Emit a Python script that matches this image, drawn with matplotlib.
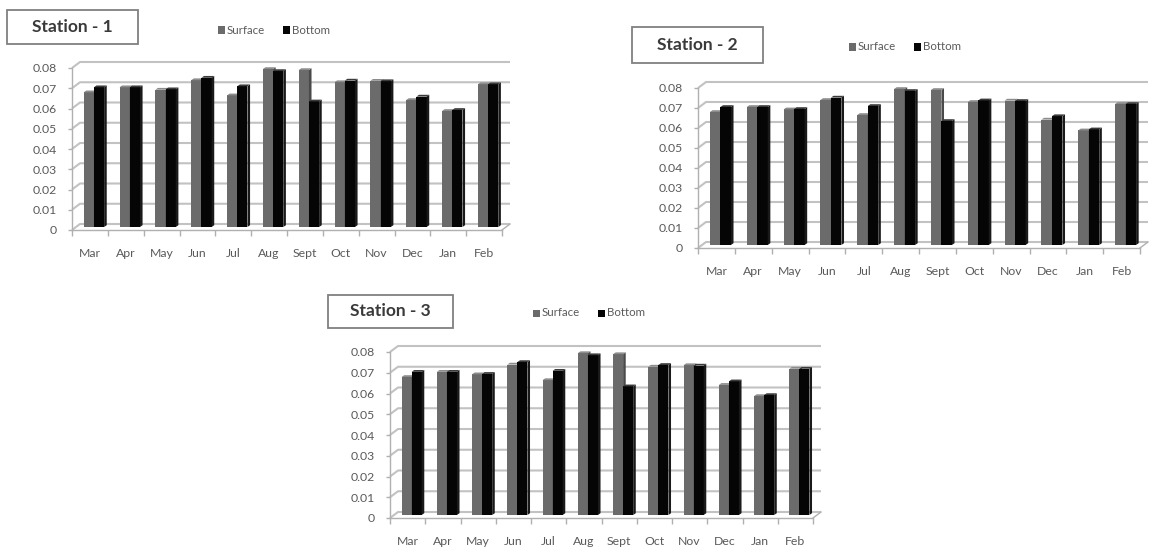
import numpy as np
import matplotlib
matplotlib.use("Agg")
import matplotlib.pyplot as plt
from matplotlib.patches import Rectangle, Polygon

W, H = 1159, 548

months = ['Mar', 'Apr', 'May', 'Jun', 'Jul', 'Aug', 'Sept', 'Oct', 'Nov', 'Dec', 'Jan', 'Feb']
yticks = [0, 0.01, 0.02, 0.03, 0.04, 0.05, 0.06, 0.07, 0.08]
ytick_labels = ['0', '0.01', '0.02', '0.03', '0.04', '0.05', '0.06', '0.07', '0.08']
series_names = ['Surface', 'Bottom']

surface_1 = [0.0665, 0.069, 0.0678, 0.0725, 0.065, 0.078, 0.0775, 0.0715, 0.0722, 0.0627, 0.0573, 0.0705]
bottom_1 = [0.069, 0.069, 0.068, 0.0737, 0.0695, 0.077, 0.062, 0.0723, 0.072, 0.0644, 0.0578, 0.0705]
surface_2 = [0.0665, 0.069, 0.0678, 0.0725, 0.065, 0.078, 0.0775, 0.0715, 0.0722, 0.0627, 0.0573, 0.0705]
bottom_2 = [0.069, 0.069, 0.068, 0.0737, 0.0695, 0.077, 0.062, 0.0723, 0.072, 0.0644, 0.0578, 0.0705]
surface_3 = [0.0665, 0.069, 0.0678, 0.0725, 0.065, 0.078, 0.0775, 0.0715, 0.0722, 0.0627, 0.0573, 0.0705]
bottom_3 = [0.069, 0.069, 0.068, 0.0737, 0.0695, 0.077, 0.062, 0.0723, 0.072, 0.0644, 0.0578, 0.0705]

FONT = ['Lato', 'DejaVu Sans']
plt.rcParams['font.family'] = FONT

fig = plt.figure(figsize=(W / 100, H / 100), dpi=100)
fig.patch.set_facecolor('white')

GRID = '#c2c2c2'
AXC = '#b0b0b0'
TXT = '#5a5a5a'
S_FRONT, S_SIDE, S_TOP = '#6b6b6b', '#4a4a4a', '#8c8c8c'
B_FRONT, B_SIDE, B_TOP = '#050505', '#1a1a1a', '#3a3a3a'


def fx(x):
    return x / W


def fy(y):
    return 1 - y / H


def panel(title, surf, bott, left, right, floor, top, box, legend_x, legend_y,
          dxpx=8, dypx=6):
    ax = fig.add_axes([fx(left), fy(floor), (right - left) / W, (floor - top) / H])
    ax.set_xlim(-0.5, 11.5)
    ax.set_ylim(0, 0.08)
    ax.patch.set_visible(False)
    ppx = (right - left) / 12.0
    ppy = (floor - top) / 0.08
    ddx = dxpx / ppx
    ddy = dypx / ppy

    # gridlines: diagonal on the side wall then across the back wall
    for v in yticks:
        ax.plot([-0.5, -0.5 + ddx, 11.5 + ddx], [v, v + ddy, v + ddy],
                color=GRID, lw=1.5, clip_on=False, zorder=1, solid_capstyle='butt')
    # right floor diagonal
    ax.plot([11.5, 11.5 + ddx], [0, ddy], color=AXC, lw=1.0, clip_on=False, zorder=1)

    # bars at mid depth
    base = ddy * 0.5
    shift = ddx * 0.5
    w = 0.285
    sdx = 2.6 / ppx
    sdy = 1.8 / ppy
    x = np.arange(len(months))
    for vals, off, cf, cs, ct in ((surf, -w / 2, S_FRONT, S_SIDE, S_TOP),
                                  (bott, w / 2, B_FRONT, B_SIDE, B_TOP)):
        xc = x + off + shift
        ax.bar(xc, vals, width=w, bottom=base, color=cf, edgecolor='none',
               zorder=3, clip_on=False)
        for xi, v in zip(xc, vals):
            xr = xi + w / 2
            xl = xi - w / 2
            side = Polygon([(xr, base), (xr + sdx, base + sdy), (xr + sdx, base + v + sdy),
                            (xr, base + v)], closed=True, facecolor=cs, edgecolor='none',
                           zorder=3, clip_on=False)
            topf = Polygon([(xl, base + v), (xl + sdx, base + v + sdy), (xr + sdx, base + v + sdy),
                            (xr, base + v)], closed=True, facecolor=ct, edgecolor='none',
                           zorder=3, clip_on=False)
            ax.add_patch(side)
            ax.add_patch(topf)

    for s in ('top', 'right'):
        ax.spines[s].set_visible(False)
    for s in ('left', 'bottom'):
        ax.spines[s].set_color(AXC)
        ax.spines[s].set_linewidth(1.0)
    ax.set_yticks(yticks)
    ax.set_yticklabels(ytick_labels)
    ax.set_xticks(np.arange(-0.5, 12, 1.0))
    ax.set_xticklabels([])
    ax.set_xticks(x, minor=True)
    ax.set_xticklabels(months, minor=True)
    ax.tick_params(axis='y', length=3, width=1, color=AXC, pad=8,
                   labelsize=8.8, labelcolor=TXT)
    ax.tick_params(axis='x', which='major', length=4, width=1, color=AXC)
    ax.tick_params(axis='x', which='minor', length=0, pad=13,
                   labelsize=8.8, labelcolor=TXT)

    # title box
    bx0, by0, bx1, by1 = box
    fig.add_artist(Rectangle((fx(bx0), fy(by1)), (bx1 - bx0) / W, (by1 - by0) / H,
                             transform=fig.transFigure, facecolor='white',
                             edgecolor='#808080', lw=1.3))
    fig.text(fx((bx0 + bx1) / 2), fy((by0 + by1) / 2), title, ha='center', va='center',
             fontsize=12.5, fontweight='bold', color='#3a3a3a')

    # legend
    sq = 7
    lx = legend_x
    for name, col in ((series_names[0], S_FRONT), (series_names[1], B_FRONT)):
        fig.add_artist(Rectangle((fx(lx), fy(legend_y + sq / 2)), sq / W, sq / H,
                                 transform=fig.transFigure, facecolor=col, edgecolor='none'))
        fig.text(fx(lx + sq + 2), fy(legend_y), name, ha='left', va='center',
                 fontsize=8.3, color=TXT)
        lx += 65
    return ax


panel('Station - 1', surface_1, bottom_1, left=72, right=502, floor=230, top=68,
      box=(7, 10, 138, 44), legend_x=218, legend_y=30)
panel('Station - 2', surface_2, bottom_2, left=698, right=1140, floor=248, top=88,
      box=(632, 27, 763, 63), legend_x=849, legend_y=47)
panel('Station - 3', surface_3, bottom_3, left=390, right=813, floor=518, top=352,
      box=(328, 295, 453, 328), legend_x=533, legend_y=313)

fig.savefig('out.png', dpi=100, facecolor='white')
